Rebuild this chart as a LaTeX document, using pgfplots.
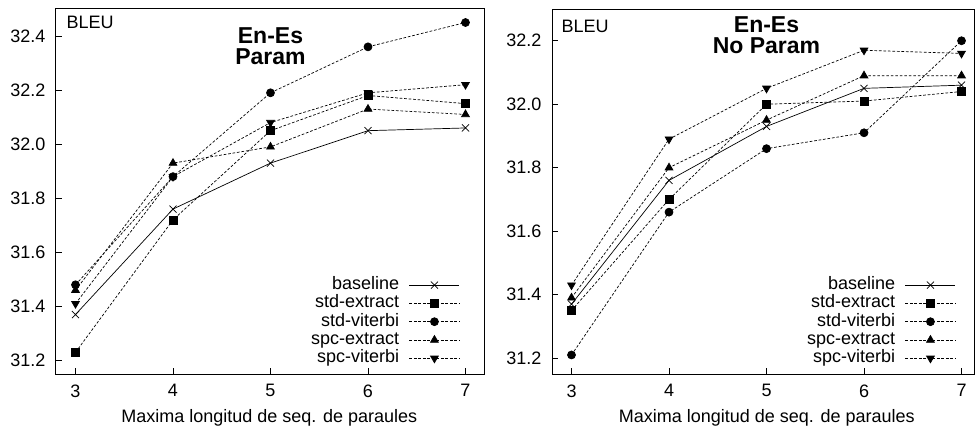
\documentclass[border=0pt]{standalone}
\usepackage{fontspec}
\setmainfont{Liberation Sans}
\usepackage{pgfplots}
\pgfplotsset{compat=1.18}

\pgfplotstableread{
n base stdext stdvit spcext spcvit
3 31.37 31.23 31.48 31.46 31.41
4 31.76 31.72 31.88 31.93 31.88
5 31.93 32.05 32.19 31.99 32.08
6 32.05 32.18 32.36 32.13 32.19
7 32.06 32.15 32.45 32.11 32.22
}\param

\pgfplotstableread{
n base stdext stdvit spcext spcvit
3 31.37 31.35 31.21 31.39 31.43
4 31.76 31.70 31.66 31.80 31.89
5 31.93 32.00 31.86 31.95 32.05
6 32.05 32.01 31.91 32.09 32.17
7 32.06 32.04 32.20 32.09 32.16
}\noparam

\tikzset{
  dsh/.style={dash pattern=on 2.7pt off 1.8pt},
  mx/.style={mark=x, mark size=5pt},
  msq/.style={dsh, mark=square*, mark size=4pt, mark options={solid}},
  mci/.style={dsh, mark=*, mark size=4pt, mark options={solid}},
  mtu/.style={dsh, mark=triangle*, mark size=4.5pt, mark options={solid}},
  mtd/.style={dsh, mark=triangle*, mark size=4.5pt, mark options={solid, rotate=180}},
  ttl/.style={anchor=base, font=\fontsize{23}{26}\selectfont\bfseries},
}

\pgfplotsset{
  bleu/.style={
    scale only axis, height=365pt,
    font=\fontsize{18}{21}\selectfont,
    /pgf/number format/assume math mode=true,
    /pgf/number format/fixed, /pgf/number format/fixed zerofill,
    /pgf/number format/precision=1,
    xmin=2.8, xtick={3,4,5,6,7},
    xticklabel style={/pgf/number format/precision=0, yshift=-7pt},
    yticklabel style={xshift=-7pt},
    tick align=inside, xtick pos=left, ytick pos=left,
    major tick length=6pt, tick style={black, line width=0.6pt},
    axis line style={line width=1pt},
    clip=false,
    every axis plot/.append style={black, line width=0.7pt},
    legend plot pos=right, legend cell align=right,
    legend style={draw=none, fill=none, anchor=south east,
      row sep=1.3pt, column sep=10pt,
      nodes={inner sep=0pt, text height=13pt, text depth=4pt},
      font=\fontsize{18}{21}\selectfont},
    legend image code/.code={\draw[mark repeat=2,mark phase=2]
      plot coordinates {(0pt,0pt) (25pt,0pt) (50pt,0pt)};},
  },
}

\begin{document}
\begin{tikzpicture}
\path[use as bounding box] (0pt,0pt) rectangle (975pt,432pt);

\begin{axis}[bleu, at={(56pt,58pt)}, anchor=south west, width=429pt,
  xmax=7.2, ymin=31.15, ymax=32.5, ytick={31.2,31.4,...,32.41},
  xlabel={Maxima longitud de seq. de paraules},
  xlabel style={at={(axis description cs:0.497,0)}, anchor=center, yshift=-44pt},
  legend style={at={(1,0)}, xshift=-22pt, yshift=5pt}]
\addplot[mx] table[x=n, y=base] {\param};
\addlegendentry{baseline}
\addplot[msq] table[x=n, y=stdext] {\param};
\addlegendentry{std-extract}
\addplot[mci] table[x=n, y=stdvit] {\param};
\addlegendentry{std-viterbi}
\addplot[mtu] table[x=n, y=spcext] {\param};
\addlegendentry{spc-extract}
\addplot[mtd] table[x=n, y=spcvit] {\param};
\addlegendentry{spc-viterbi}
\node[anchor=base west] at ([xshift=7pt, yshift=-20pt]rel axis cs:0,1) {BLEU};
\node[ttl] at (axis cs:5,32.374) {En-Es};
\node[ttl] at (axis cs:5,32.293) {Param};
\end{axis}

\begin{axis}[bleu, at={(552pt,58pt)}, anchor=south west, width=422pt,
  xmax=7.128, ymin=31.15, ymax=32.3, ytick={31.2,31.4,...,32.21},
  xlabel={Maxima longitud de seq. de paraules},
  xlabel style={at={(axis description cs:0.509,0)}, anchor=center, yshift=-44pt},
  legend style={at={(1,0)}, xshift=-15pt, yshift=5pt}]
\addplot[mx] table[x=n, y=base] {\noparam};
\addlegendentry{baseline}
\addplot[msq] table[x=n, y=stdext] {\noparam};
\addlegendentry{std-extract}
\addplot[mci] table[x=n, y=stdvit] {\noparam};
\addlegendentry{std-viterbi}
\addplot[mtu] table[x=n, y=spcext] {\noparam};
\addlegendentry{spc-extract}
\addplot[mtd] table[x=n, y=spcvit] {\noparam};
\addlegendentry{spc-viterbi}
\node[anchor=base west] at ([xshift=6pt, yshift=-23pt]rel axis cs:0,1) {BLEU};
\node[ttl] at (axis cs:5,32.227) {En-Es};
\node[ttl] at (axis cs:5,32.161) {No Param};
\end{axis}
\end{tikzpicture}
\end{document}
